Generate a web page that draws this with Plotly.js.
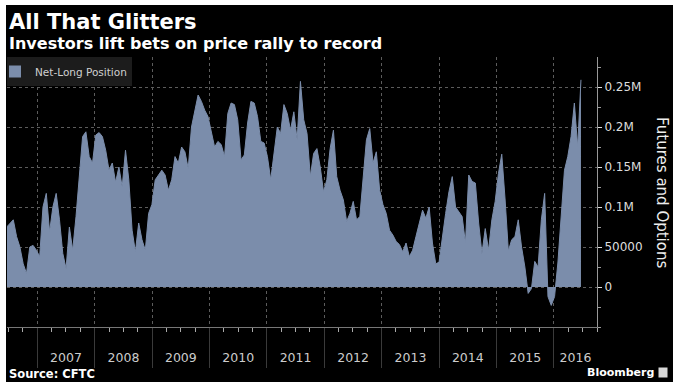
<!DOCTYPE html>
<html>
<head>
<meta charset="utf-8">
<script src="https://cdn.plot.ly/plotly-3.0.1.min.js"></script>
<style>
  html, body { margin: 0; padding: 0; background: #ffffff; width: 682px; height: 389px; overflow: hidden; }
  #chart { position: absolute; left: 6px; top: 5px; width: 667px; height: 377px; }
</style>
</head>
<body>
<div id="chart"></div>
<script>
// ---- data ----
const seriesName = 'Net-Long Position';
const firstReportDate = '2006-06-20';   // first sampled CFTC report
const reportStepDays = 21;              // sampling interval of the values below
// net-long position, thousands of contracts (futures and options)
const netLongK = [
  75, 80, 84, 63, 50, 29, 17, 50, 52, 46,
  38, 100, 117, 69, 100, 117, 84, 42, 23, 75,
  46, 88, 142, 188, 194, 163, 155, 190, 193, 188,
  171, 146, 155, 131, 150, 125, 171, 134, 71, 44,
  80, 59, 46, 92, 103, 134, 140, 146, 140, 121,
  134, 163, 155, 175, 169, 148, 200, 221, 240, 232,
  221, 213, 192, 175, 182, 178, 163, 217, 230, 228,
  209, 159, 165, 205, 232, 230, 213, 182, 180, 163,
  134, 171, 200, 192, 228, 217, 196, 219, 184, 257,
  209, 192, 138, 167, 173, 150, 119, 134, 173, 196,
  138, 121, 109, 82, 92, 107, 84, 88, 138, 184,
  198, 155, 169, 121, 103, 92, 71, 65, 57, 53,
  44, 55, 38, 46, 63, 80, 96, 86, 100, 55,
  29, 31, 63, 92, 119, 138, 100, 94, 88, 55,
  140, 132, 130, 80, 42, 73, 46, 84, 107, 142,
  166, 110, 45, 59, 63, 84, 50, 25, -8, -2,
  32, 25, 84, 117, -12, -23, -12, 30, 92, 146,
  163, 188, 230, 175, 259
];
const yTickVals = [0, 50000, 100000, 150000, 200000, 250000];
const yTickText = ['0', '50000', '0.1M', '0.15M', '0.2M', '0.25M'];
const yearLabels = ['2007', '2008', '2009', '2010', '2011', '2012', '2013', '2014', '2015', '2016'];
const xRange = ['2006-06-22', '2016-10-01'];
const yRange = [-50000, 287500];
const titleText = 'All That Glitters';
const subtitleText = 'Investors lift bets on price rally to record';
const sourceText = 'Source: CFTC';
const brandText = 'Bloomberg';
const yTitleText = 'Futures and Options';

// ---- helpers ----
function addDays(iso, n) {
  const d = new Date(iso + 'T00:00:00Z');
  d.setUTCDate(d.getUTCDate() + n);
  return d.toISOString().slice(0, 10);
}
function midDate(a, b) {
  const ta = Date.parse(a + 'T00:00:00Z'), tb = Date.parse(b + 'T00:00:00Z');
  return new Date((ta + tb) / 2).toISOString().slice(0, 10);
}
const reportDates = netLongK.map((_, i) => addDays(firstReportDate, i * reportStepDays));
const netLong = netLongK.map(v => v * 1000);
// year labels centred in the visible part of each year
const yearLabelPos = yearLabels.map(y => {
  const start = y + '-01-01';
  const next = (Number(y) + 1) + '-01-01';
  return midDate(start, next > xRange[1] ? xRange[1] : next);
});

const FONT = 'DejaVu Sans, Verdana, sans-serif';
const FILL = '#7b8dab';

const traces = [
  {
    type: 'scatter', mode: 'lines',
    x: reportDates,
    y: netLong,
    name: seriesName,
    legendgroup: 'net',
    showlegend: false,
    fill: 'tozeroy',
    fillcolor: FILL,
    line: { color: FILL, width: 1 },
    hovertemplate: '%{x|%b %d, %Y}: %{y:,}<extra></extra>'
  },
  // legend entry (square swatch, as in the reference)
  {
    type: 'bar', x: [null], y: [null], name: seriesName, legendgroup: 'net',
    marker: { color: FILL, line: { width: 0 } }, hoverinfo: 'skip'
  },
  {
    type: 'scatter', mode: 'markers', x: [], y: [], xaxis: 'x2', yaxis: 'y',
    showlegend: false, hoverinfo: 'skip'
  }
];

const layout = {
  width: 667, height: 377,
  paper_bgcolor: '#000000', plot_bgcolor: '#000000',
  margin: { l: 1, r: 76, t: 52, b: 55, pad: 0 },
  font: { family: FONT, color: '#dddddd', size: 12 },
  showlegend: true,
  legend: {
    x: 0, y: 1, xanchor: 'left', yanchor: 'top',
    bgcolor: '#1c1c1c', borderwidth: 0,
    font: { family: FONT, size: 10.5, color: '#d0d0d0' },
    indentation: -12
  },
  xaxis: {
    type: 'date', range: xRange,
    tick0: '2007-01-01', dtick: 'M12',
    showticklabels: false,
    ticks: 'outside', ticklen: 40, tickcolor: '#3a3a3a', tickwidth: 1,
    showgrid: true, gridcolor: '#5c5c5c', griddash: 'dot', gridwidth: 1,
    showline: true, linecolor: '#777777', linewidth: 1,
    zeroline: false,
    minor: { tick0: '2007-01-01', dtick: 'M3', ticks: 'outside', ticklen: 4, tickcolor: '#aaaaaa', showgrid: false },
    fixedrange: true
  },
  xaxis2: {
    type: 'date', overlaying: 'x', anchor: 'y', side: 'bottom', range: xRange,
    tickmode: 'array', tickvals: yearLabelPos, ticktext: yearLabels,
    ticks: '', showgrid: false, zeroline: false, showline: false,
    ticklabelstandoff: 21,
    tickfont: { family: FONT, size: 12.5, color: '#cccccc' },
    fixedrange: true
  },
  yaxis: {
    side: 'right', range: yRange,
    tickmode: 'array', tickvals: yTickVals, ticktext: yTickText,
    ticks: 'outside', ticklen: 4, tickcolor: '#dddddd',
    showline: true, linecolor: '#999999', linewidth: 1,
    showgrid: true, gridcolor: '#5c5c5c', griddash: 'dot', gridwidth: 1,
    zeroline: false,
    minor: { tick0: 0, dtick: 25000, ticks: 'outside', ticklen: 3, tickcolor: '#999999', showgrid: false },
    tickfont: { family: FONT, size: 12, color: '#dddddd' },
    fixedrange: true
  },
  annotations: [
    { text: '<b>' + titleText + '</b>', xref: 'paper', yref: 'paper', x: 0, y: 1.13,
      xanchor: 'left', yanchor: 'middle', showarrow: false,
      font: { family: FONT, size: 21, color: '#ffffff' } },
    { text: '<b>' + subtitleText + '</b>', xref: 'paper', yref: 'paper', x: 0, y: 1.05,
      xanchor: 'left', yanchor: 'middle', showarrow: false,
      font: { family: FONT, size: 16, color: '#ffffff' } },
    { text: yTitleText, xref: 'paper', yref: 'paper', x: 1.111, y: 0.498,
      xanchor: 'center', yanchor: 'middle', textangle: 90, showarrow: false,
      font: { family: FONT, size: 15, color: '#eeeeee' } },
    { text: '<b>' + sourceText + '</b>', xref: 'paper', yref: 'paper', x: 0, y: -0.174,
      xanchor: 'left', yanchor: 'middle', showarrow: false,
      font: { family: FONT, size: 11.5, color: '#ffffff' } },
    { text: '<b>' + brandText + '</b>', xref: 'paper', yref: 'paper', x: 1.1, y: -0.167,
      xanchor: 'right', yanchor: 'middle', showarrow: false,
      font: { family: FONT, size: 11, color: '#ffffff' } },
    { text: ' ', xref: 'paper', yref: 'paper', x: 1.1127, y: -0.167,
      xanchor: 'center', yanchor: 'middle', showarrow: false,
      width: 8, height: 9, bgcolor: '#d8d8d8', borderpad: 0,
      font: { family: FONT, size: 8, color: '#000000' } }
  ]
};

Plotly.newPlot('chart', traces, layout, { displayModeBar: false, responsive: false });
</script>
</body>
</html>
